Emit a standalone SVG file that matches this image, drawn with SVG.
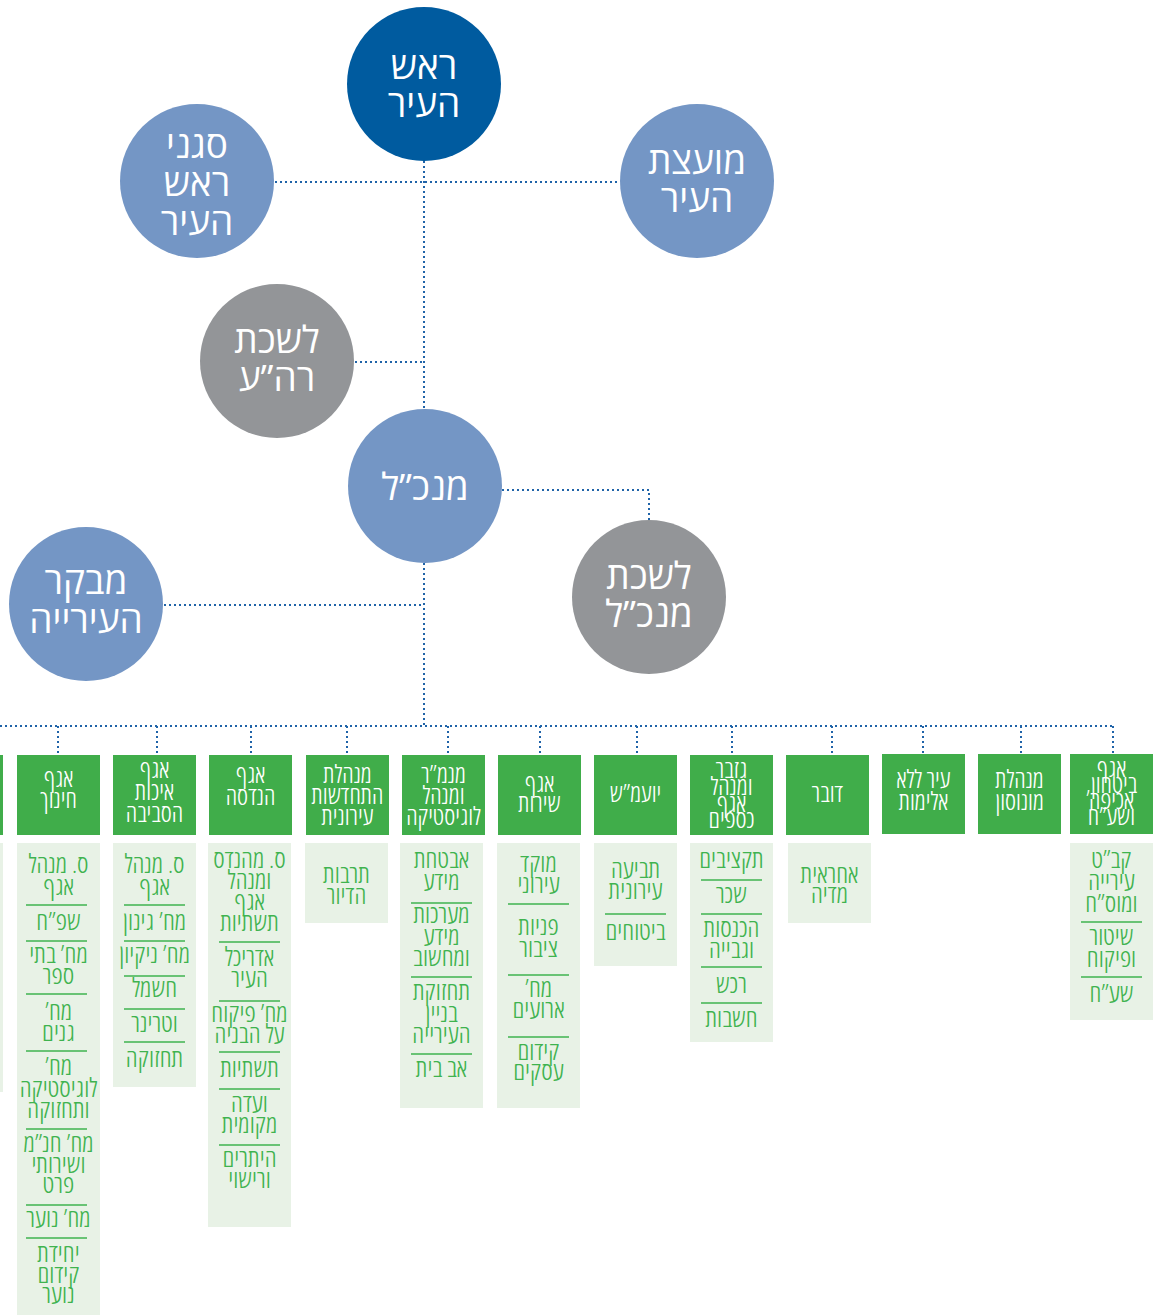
<svg xmlns="http://www.w3.org/2000/svg" width="1160" height="1315" viewBox="0 0 1160 1315">
<style>
text{font-family:"Open Sans","Liberation Sans","DejaVu Sans",sans-serif;direction:rtl;text-anchor:middle}
.ct{fill:#fff;font-size:37px}
.ht{fill:#fff;font-size:25px;font-stretch:condensed;font-weight:300}
.st{fill:#3fb34f;font-size:26px;font-stretch:condensed;font-weight:300}
.dk{fill:#005b9f}
.lb{fill:#7496c5}
.gr{fill:#939598}
.hd{fill:#40ad4a}
.sb{fill:#e8f2e6}
.sep{stroke:#3fb34f;stroke-width:1.5}
.con{fill:none;stroke:#1f63a8;stroke-width:2;stroke-dasharray:2 3}
</style>
<rect width="1160" height="1315" fill="#fff"/>
<g id="connectors">
<path class="con" d="M424 161V408M275 182H620M355 362H424M502 490H649V520M424 563V726M164 605H424M0 726H1113"/>
<path class="con" d="M58 726V755M157 726V755M251 726V755M347 726V755M448 726V755M540 726V755M637 726V755M732 726V755M832 726V755M923 726V755M1021 726V755M1113 726V755"/>
</g>
<g id="mayor"><circle class="dk" cx="424" cy="84" r="77"/><text class="ct" x="424" y="79">ראש</text><text class="ct" x="424" y="117">העיר</text></g>
<g id="deputies"><circle class="lb" cx="197" cy="181" r="77"/><text class="ct" x="197" y="158">סגני</text><text class="ct" x="197" y="196">ראש</text><text class="ct" x="197" y="235">העיר</text></g>
<g id="council"><circle class="lb" cx="697" cy="181" r="77"/><text class="ct" x="697" y="174">מועצת</text><text class="ct" x="697" y="212">העיר</text></g>
<g id="mayor-office"><circle class="gr" cx="277" cy="361" r="77"/><text class="ct" x="277" y="353">לשכת</text><text class="ct" x="277" y="391">רה”ע</text></g>
<g id="ceo"><circle class="lb" cx="425" cy="486" r="77"/><text class="ct" x="425" y="500">מנכ”ל</text></g>
<g id="ceo-office"><circle class="gr" cx="649" cy="597" r="77"/><text class="ct" x="649" y="589">לשכת</text><text class="ct" x="649" y="627">מנכ”ל</text></g>
<g id="comptroller"><circle class="lb" cx="86" cy="604" r="77"/><text class="ct" x="86" y="594">מבקר</text><text class="ct" x="86" y="633">העירייה</text></g>

<g id="col-partial"><rect class="hd" x="-80" y="755" width="83" height="80"/><rect class="sb" x="-80" y="843" width="83" height="249"/></g>

<g id="education">
<rect class="hd" x="17" y="755" width="83" height="80"/>
<text class="ht" x="58.5" y="787">אגף</text><text class="ht" x="58.5" y="808">חינוך</text>
<rect class="sb" x="17" y="843" width="83" height="472"/>
<text class="st" x="58.5" y="873">ס. מנהל</text><text class="st" x="58.5" y="895">אגף</text>
<line class="sep" x1="26" y1="905" x2="87" y2="905"/>
<text class="st" x="58.5" y="930">שפ”ח</text>
<line class="sep" x1="26" y1="941" x2="87" y2="941"/>
<text class="st" x="58.5" y="963">מח’ בתי</text><text class="st" x="58.5" y="984">ספר</text>
<line class="sep" x1="26" y1="994" x2="87" y2="994"/>
<text class="st" x="58.5" y="1020">מח’</text><text class="st" x="58.5" y="1041">גנים</text>
<line class="sep" x1="26" y1="1051" x2="87" y2="1051"/>
<text class="st" x="58.5" y="1075">מח’</text><text class="st" x="58.5" y="1097">לוגיסטיקה</text><text class="st" x="58.5" y="1118">ותחזוקה</text>
<line class="sep" x1="26" y1="1129" x2="87" y2="1129"/>
<text class="st" x="58.5" y="1152">מח’ חנ”מ</text><text class="st" x="58.5" y="1173">ושירותי</text><text class="st" x="58.5" y="1193">פרט</text>
<line class="sep" x1="26" y1="1205" x2="87" y2="1205"/>
<text class="st" x="58.5" y="1227">מח’ נוער</text>
<line class="sep" x1="26" y1="1238" x2="87" y2="1238"/>
<text class="st" x="58.5" y="1262">יחידת</text><text class="st" x="58.5" y="1283">קידום</text><text class="st" x="58.5" y="1303">נוער</text>
</g>

<g id="environment">
<rect class="hd" x="113" y="755" width="83" height="80"/>
<text class="ht" x="154.5" y="778">אגף</text><text class="ht" x="154.5" y="800">איכות</text><text class="ht" x="154.5" y="822">הסביבה</text>
<rect class="sb" x="113" y="843" width="83" height="244"/>
<text class="st" x="154.5" y="873">ס. מנהל</text><text class="st" x="154.5" y="895">אגף</text>
<line class="sep" x1="124" y1="905" x2="185" y2="905"/>
<text class="st" x="154.5" y="930">מח’ גינון</text>
<line class="sep" x1="124" y1="941" x2="185" y2="941"/>
<text class="st" x="154.5" y="963">מח’ ניקיון</text>
<line class="sep" x1="124" y1="976" x2="185" y2="976"/>
<text class="st" x="154.5" y="997">חשמל</text>
<line class="sep" x1="124" y1="1009" x2="185" y2="1009"/>
<text class="st" x="154.5" y="1032">וטרינר</text>
<line class="sep" x1="124" y1="1042" x2="185" y2="1042"/>
<text class="st" x="154.5" y="1067">תחזוקה</text>
</g>

<g id="engineering">
<rect class="hd" x="209" y="755" width="83" height="80"/>
<text class="ht" x="250.5" y="783">אגף</text><text class="ht" x="250.5" y="805">הנדסה</text>
<rect class="sb" x="208" y="843" width="83" height="384"/>
<text class="st" x="249.5" y="868">ס. מהנדס</text><text class="st" x="249.5" y="889">ומנהל</text><text class="st" x="249.5" y="910">אגף</text><text class="st" x="249.5" y="931">תשתיות</text>
<line class="sep" x1="219" y1="942" x2="280" y2="942"/>
<text class="st" x="249.5" y="966">אדריכל</text><text class="st" x="249.5" y="987">העיר</text>
<line class="sep" x1="219" y1="1001" x2="280" y2="1001"/>
<text class="st" x="249.5" y="1022">מח’ פיקוח</text><text class="st" x="249.5" y="1043">על הבניה</text>
<line class="sep" x1="219" y1="1052" x2="280" y2="1052"/>
<text class="st" x="249.5" y="1077">תשתיות</text>
<line class="sep" x1="219" y1="1089" x2="280" y2="1089"/>
<text class="st" x="249.5" y="1112">ועדה</text><text class="st" x="249.5" y="1133">מקומית</text>
<line class="sep" x1="219" y1="1145" x2="280" y2="1145"/>
<text class="st" x="249.5" y="1167">היתרים</text><text class="st" x="249.5" y="1188">ורישוי</text>
</g>

<g id="renewal">
<rect class="hd" x="306" y="755" width="83" height="80"/>
<text class="ht" x="347.5" y="783">מנהלת</text><text class="ht" x="347.5" y="804">התחדשות</text><text class="ht" x="347.5" y="825">עירונית</text>
<rect class="sb" x="305" y="843" width="83" height="80"/>
<text class="st" x="346.5" y="883">תרבות</text><text class="st" x="346.5" y="904">הדיור</text>
</g>

<g id="cio">
<rect class="hd" x="402" y="755" width="83" height="80"/>
<text class="ht" x="443.5" y="783">מנמ”ר</text><text class="ht" x="443.5" y="804">ומנהל</text><text class="ht" x="443.5" y="825">לוגיסטיקה</text>
<rect class="sb" x="400" y="843" width="83" height="265"/>
<text class="st" x="441.5" y="868">אבטחת</text><text class="st" x="441.5" y="890">מידע</text>
<line class="sep" x1="411" y1="903" x2="472" y2="903"/>
<text class="st" x="441.5" y="923">מערכות</text><text class="st" x="441.5" y="945">מידע</text><text class="st" x="441.5" y="966">ומחשוב</text>
<line class="sep" x1="411" y1="977" x2="472" y2="977"/>
<text class="st" x="441.5" y="1000">תחזוקת</text><text class="st" x="441.5" y="1022">בניין</text><text class="st" x="441.5" y="1043">העירייה</text>
<line class="sep" x1="411" y1="1054" x2="472" y2="1054"/>
<text class="st" x="441.5" y="1077">אב בית</text>
</g>

<g id="service">
<rect class="hd" x="498" y="755" width="83" height="80"/>
<text class="ht" x="539.5" y="792">אגף</text><text class="ht" x="539.5" y="812">שירות</text>
<rect class="sb" x="497" y="843" width="83" height="265"/>
<text class="st" x="538.5" y="872">מוקד</text><text class="st" x="538.5" y="893">עירוני</text>
<line class="sep" x1="508" y1="904" x2="569" y2="904"/>
<text class="st" x="538.5" y="935">פניות</text><text class="st" x="538.5" y="957">ציבור</text>
<line class="sep" x1="508" y1="975" x2="569" y2="975"/>
<text class="st" x="538.5" y="997">מח’</text><text class="st" x="538.5" y="1018">ארועים</text>
<line class="sep" x1="508" y1="1037" x2="569" y2="1037"/>
<text class="st" x="538.5" y="1060">קידום</text><text class="st" x="538.5" y="1080">עסקים</text>
</g>

<g id="legal">
<rect class="hd" x="594" y="755" width="83" height="80"/>
<text class="ht" x="635.5" y="802">יועמ”ש</text>
<rect class="sb" x="594" y="843" width="83" height="123"/>
<text class="st" x="635.5" y="878">תביעה</text><text class="st" x="635.5" y="899">עירונית</text>
<line class="sep" x1="605" y1="914" x2="666" y2="914"/>
<text class="st" x="635.5" y="940">ביטוחים</text>
</g>

<g id="treasurer">
<rect class="hd" x="690" y="755" width="83" height="80"/>
<text class="ht" x="731.5" y="778">גזבר</text><text class="ht" x="731.5" y="795">ומנהל</text><text class="ht" x="731.5" y="812">אגף</text><text class="ht" x="731.5" y="828">כספים</text>
<rect class="sb" x="690" y="843" width="83" height="199"/>
<text class="st" x="731.5" y="868">תקציבים</text>
<line class="sep" x1="701" y1="880" x2="762" y2="880"/>
<text class="st" x="731.5" y="903">שכר</text>
<line class="sep" x1="701" y1="914" x2="762" y2="914"/>
<text class="st" x="731.5" y="937">הכנסות</text><text class="st" x="731.5" y="958">וגבייה</text>
<line class="sep" x1="701" y1="967" x2="762" y2="967"/>
<text class="st" x="731.5" y="993">רכש</text>
<line class="sep" x1="701" y1="1003" x2="762" y2="1003"/>
<text class="st" x="731.5" y="1027">חשבות</text>
</g>

<g id="spokesman">
<rect class="hd" x="786" y="755" width="83" height="80"/>
<text class="ht" x="827.5" y="802">דובר</text>
<rect class="sb" x="788" y="843" width="83" height="80"/>
<text class="st" x="829.5" y="883">אחראית</text><text class="st" x="829.5" y="903">מדיה</text>
</g>

<g id="no-violence">
<rect class="hd" x="882" y="754" width="83" height="80"/>
<text class="ht" x="923.5" y="788">עיר ללא</text><text class="ht" x="923.5" y="810">אלימות</text>
</g>

<g id="monoson">
<rect class="hd" x="978" y="754" width="83" height="80"/>
<text class="ht" x="1019.5" y="788">מנהלת</text><text class="ht" x="1019.5" y="810">מונוסון</text>
</g>

<g id="security">
<rect class="hd" x="1070" y="754" width="83" height="80"/>
<text class="ht" x="1111.5" y="777">אגף</text><text class="ht" x="1111.5" y="793">ביטחון,</text><text class="ht" x="1111.5" y="809">אכיפה</text><text class="ht" x="1111.5" y="825">ושע”ח</text>
<rect class="sb" x="1070" y="843" width="83" height="177"/>
<text class="st" x="1111.5" y="868">קב”ט</text><text class="st" x="1111.5" y="890">עירייה</text><text class="st" x="1111.5" y="912">ומוס”ח</text>
<line class="sep" x1="1081" y1="922" x2="1142" y2="922"/>
<text class="st" x="1111.5" y="945">שיטור</text><text class="st" x="1111.5" y="967">ופיקוח</text>
<line class="sep" x1="1081" y1="977" x2="1142" y2="977"/>
<text class="st" x="1111.5" y="1002">שע”ח</text>
</g>
</svg>
